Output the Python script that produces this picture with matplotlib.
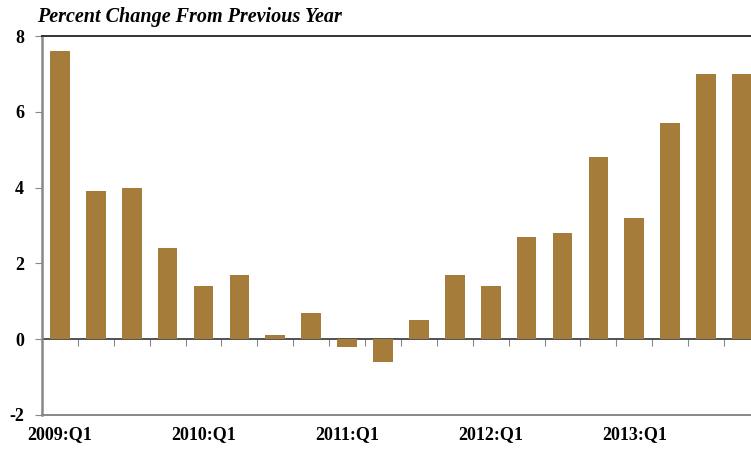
import numpy as np
import matplotlib
matplotlib.use("Agg")
from matplotlib import pyplot as plt

plt.rcParams["axes.unicode_minus"] = False

# quarterly values, 2009:Q1 .. 2013:Q4
quarters = [f"{y}:Q{q}" for y in range(2009, 2014) for q in range(1, 5)]
values = [7.6, 3.9, 4.0, 2.4, 1.4, 1.7, 0.1, 0.7, -0.2, -0.6,
          0.5, 1.7, 1.4, 2.7, 2.8, 4.8, 3.2, 5.7, 7.0, 7.0]
yticks = [-2, 0, 2, 4, 6, 8]

bar_color = "#A67C3B"
serif = ["Liberation Serif", "DejaVu Serif"]

fig = plt.figure(figsize=(7.51, 4.5), dpi=100)
ax = fig.add_axes([0.0559, 0.0778, 0.956, 0.8422])

x = np.arange(len(values))
ax.bar(x, values, width=0.55, color=bar_color, zorder=3)

ax.set_xlim(-0.5, len(values) - 0.5)
ax.set_ylim(-2, 8)

# zero line with small ticks at the slot boundaries
ax.axhline(0, color="#333333", lw=1.2, zorder=2)
sec = ax.secondary_xaxis(0.2)
sec.spines["bottom"].set_visible(False)
sec.set_xticks(np.arange(len(values)) + 0.5)
sec.set_xticklabels([])
sec.tick_params(axis="x", length=5, width=0.8, color="#888888", direction="out")

# x labels every 4 quarters
ax.set_xticks(x[::4])
ax.set_xticklabels(quarters[::4])
ax.tick_params(axis="x", length=0, pad=8)

ax.set_yticks(yticks)
ax.tick_params(axis="y", length=5, width=0.8, color="#888888", pad=8)

for lab in ax.get_xticklabels() + ax.get_yticklabels():
    lab.set_fontfamily(serif)
    lab.set_fontweight("bold")
    lab.set_fontsize(13)

ax.spines["right"].set_visible(False)
ax.spines["top"].set_color("#333333")
ax.spines["top"].set_linewidth(1.4)
ax.spines["left"].set_color("#888888")
ax.spines["left"].set_linewidth(1.8)
ax.spines["bottom"].set_color("#888888")
ax.spines["bottom"].set_linewidth(1.4)

fig.text(0.049, 0.962, "Percent Change From Previous Year", fontfamily=serif,
         fontstyle="italic", fontweight="bold", fontsize=14.5, ha="left", va="center")

fig.savefig("out.png", dpi=100)
